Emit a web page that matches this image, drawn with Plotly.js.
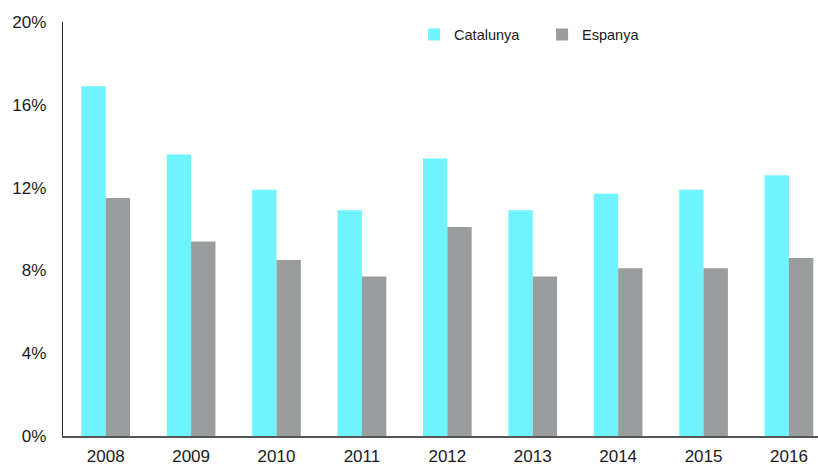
<!DOCTYPE html>
<html>
<head>
<meta charset="utf-8">
<script src="https://cdn.plot.ly/plotly-3.0.1.min.js"></script>
<style>html,body{margin:0;padding:0;background:#fff;}#chart{width:818px;height:467px;}</style>
</head>
<body>
<div id="chart"></div>
<script>
var years = ["2008","2009","2010","2011","2012","2013","2014","2015","2016"];
var catalunya = [16.9, 13.6, 11.9, 10.9, 13.4, 10.9, 11.7, 11.9, 12.6];
var espanya = [11.5, 9.4, 8.5, 7.7, 10.1, 7.7, 8.1, 8.1, 8.6];
var yTicks = [0, 4, 8, 12, 16, 20];
var yTickLabels = ["0%", "4%", "8%", "12%", "16%", "20%"];

var traces = [
  {type: "bar", name: "Catalunya", x: years, y: catalunya,
   marker: {color: "#6EF3FF"}, hoverinfo: "x+y"},
  {type: "bar", name: "Espanya", x: years, y: espanya,
   marker: {color: "#9A9D9D"}, hoverinfo: "x+y"}
];

var layout = {
  width: 818, height: 467,
  margin: {l: 63, r: 0, t: 22, b: 31, pad: 0},
  paper_bgcolor: "#fff", plot_bgcolor: "#fff",
  font: {family: "Liberation Sans, Arial, sans-serif", color: "#1a1a1a", size: 17},
  barmode: "group", bargap: 0.43, bargroupgap: 0,
  showlegend: true,
  legend: {orientation: "h", x: 0.465, y: 1.008, xanchor: "left", yanchor: "top",
           font: {size: 14.5, color: "#1a1a1a"}, bgcolor: "rgba(0,0,0,0)",
           entrywidth: 83, itemwidth: 30, traceorder: "normal"},
  xaxis: {type: "category", range: [-0.5, 8.34], showgrid: false, zeroline: false,
          showline: true, linecolor: "#555", linewidth: 1.5,
          ticks: "outside", ticklen: 4, tickcolor: "rgba(0,0,0,0)",
          tickfont: {size: 17}, fixedrange: true},
  yaxis: {range: [0, 20], tickvals: yTicks, ticktext: yTickLabels,
          showgrid: false, zeroline: false, showline: true, linecolor: "#222", linewidth: 1.2,
          ticks: "outside", ticklen: 12, tickcolor: "rgba(0,0,0,0)",
          tickfont: {size: 17}, fixedrange: true}
};

Plotly.newPlot("chart", traces, layout, {displayModeBar: false, staticPlot: true});
</script>
</body>
</html>
